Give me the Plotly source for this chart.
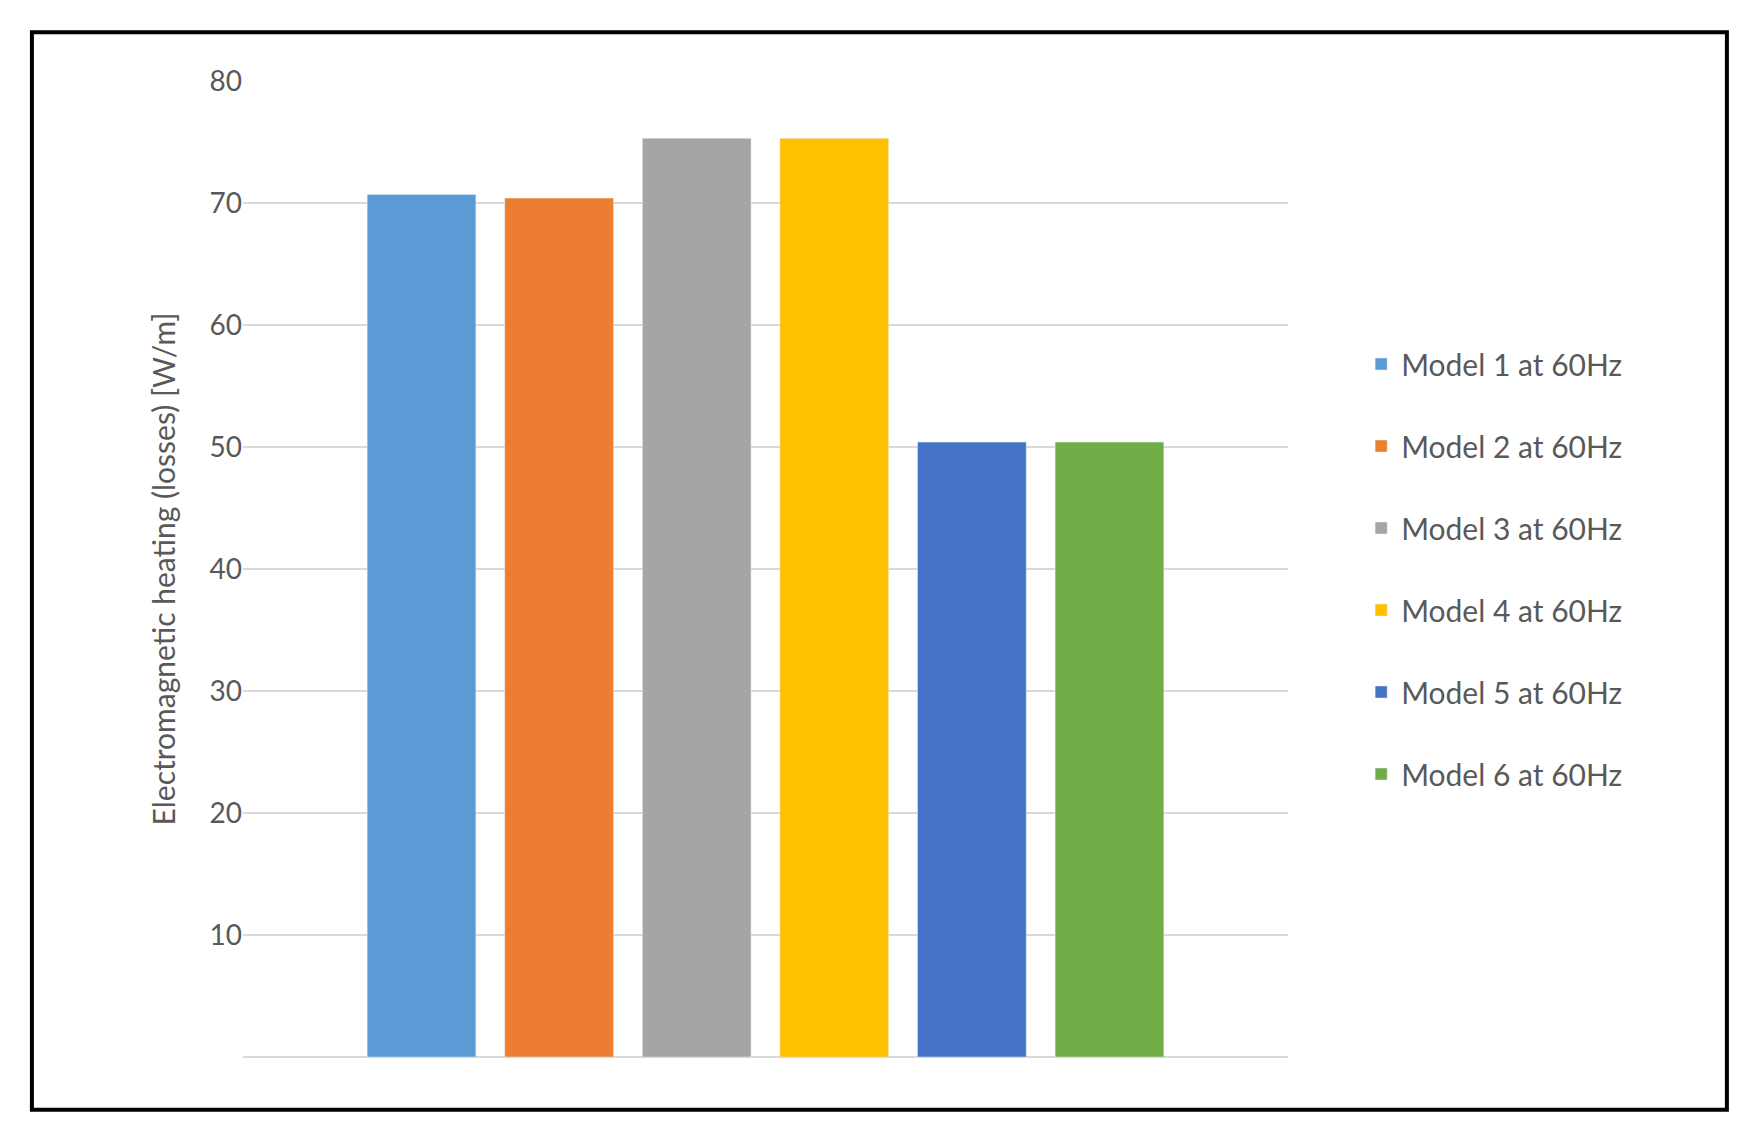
import plotly.graph_objects as go

models = ["Model 1 at 60Hz", "Model 2 at 60Hz", "Model 3 at 60Hz",
          "Model 4 at 60Hz", "Model 5 at 60Hz", "Model 6 at 60Hz"]
losses = [70.7, 70.4, 75.3, 75.3, 50.4, 50.4]
colors = ["#5B9BD5", "#ED7D31", "#A5A5A5", "#FFC000", "#4472C4", "#70AD47"]
yticks = [10, 20, 30, 40, 50, 60, 70, 80]

fig = go.Figure()
for name, val, col in zip(models, losses, colors):
    fig.add_trace(go.Bar(x=[""], y=[val], name=name, marker_color=col,
                         legendgroup=name))

fig.update_layout(
    width=1741, height=1128,
    margin=dict(l=235, r=461, t=73, b=79),
    plot_bgcolor="white", paper_bgcolor="white",
    barmode="group", bargap=0.21, bargroupgap=0.21,
    font=dict(family="Lato", color="#595959"),
    legend=dict(x=1.07, y=0.5, yanchor="middle", font=dict(size=30),
                tracegroupgap=40, itemwidth=30),
    showlegend=True,
)
fig.update_xaxes(showticklabels=False, showline=False)
fig.update_yaxes(range=[0, 80], tickvals=yticks, tickfont=dict(size=28),
                 gridcolor="#D9D9D9", gridwidth=2, zeroline=True,
                 zerolinecolor="#D9D9D9", zerolinewidth=2,
                 title=dict(text="Electromagnetic heating (losses) [W/m]",
                            font=dict(size=30), standoff=25))
fig.add_shape(type="rect", xref="paper", yref="paper",
              x0=-0.202, x1=1.42, y0=-0.054, y1=1.05,
              line=dict(color="black", width=4))
fig.write_html("out.html")
